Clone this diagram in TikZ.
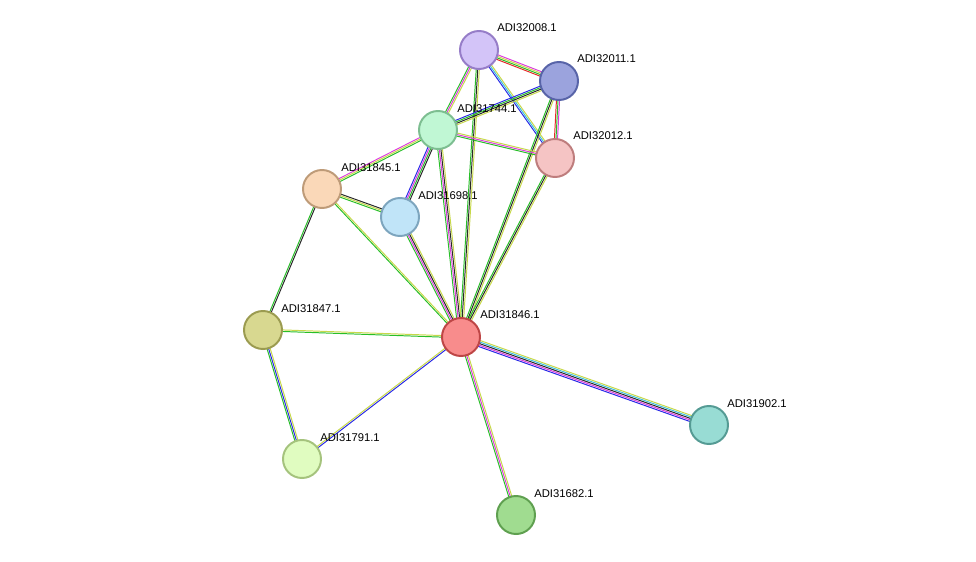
\documentclass[tikz,border=0pt]{standalone}
\usepackage{fontspec}
\setmainfont{Liberation Sans}
\usetikzlibrary{calc}

\definecolor{tmine}{RGB}{199,216,74}
\definecolor{nbh}{RGB}{40,190,40}
\definecolor{cooc}{RGB}{40,40,230}
\definecolor{expt}{RGB}{220,60,220}
\definecolor{dbs}{RGB}{60,190,220}
\definecolor{fus}{RGB}{230,40,40}
\definecolor{coex}{RGB}{40,40,40}

\definecolor{f08}{HTML}{D3C4F8}\definecolor{d08}{HTML}{967DC8}
\definecolor{f11}{HTML}{9BA3DD}\definecolor{d11}{HTML}{5864A8}
\definecolor{f44}{HTML}{C0F7D4}\definecolor{d44}{HTML}{7DBE91}
\definecolor{f12}{HTML}{F5C4C4}\definecolor{d12}{HTML}{BE7D7D}
\definecolor{f45}{HTML}{FAD8B8}\definecolor{d45}{HTML}{BE9B78}
\definecolor{f98}{HTML}{C0E4F8}\definecolor{d98}{HTML}{7DA5BE}
\definecolor{f47}{HTML}{D8D890}\definecolor{d47}{HTML}{9B9B50}
\definecolor{f46}{HTML}{F88C8C}\definecolor{d46}{HTML}{BE4646}
\definecolor{f02}{HTML}{98DCD4}\definecolor{d02}{HTML}{559B94}
\definecolor{f91}{HTML}{E0FCC0}\definecolor{d91}{HTML}{A5C37D}
\definecolor{f82}{HTML}{A0DC90}\definecolor{d82}{HTML}{5FA050}

\tikzset{
  prot/.style={circle, draw=d#1, fill=f#1, line width=1.4pt, minimum size=0.95cm, inner sep=0pt},
  lbl/.style={anchor=west, inner sep=0pt, font=\fontsize{8}{9}\selectfont}
}

% #1,#2 end points, #3 number of lines, #4 colours
\newcommand\stredge[4]{%
  \foreach \c [count=\i] in {#4} {
    \pgfmathsetmacro\o{(\i-1-(#3-1)/2)*1.1}
    \draw[\c, line width=0.7pt] ($(#1)!\o pt!90:(#2)$) -- ($(#2)!\o pt!-90:(#1)$);
  }}

\begin{document}
\begin{tikzpicture}[x=0.025cm, y=-0.025cm]
\useasboundingbox (0,0) rectangle (976,561);

\coordinate (c08) at (479,50);
\coordinate (c11) at (559,81);
\coordinate (c44) at (438,130);
\coordinate (c12) at (555,158);
\coordinate (c45) at (322,189);
\coordinate (c98) at (400,217);
\coordinate (c47) at (263,330);
\coordinate (c46) at (461,337);
\coordinate (c02) at (709,425);
\coordinate (c91) at (302,459);
\coordinate (c82) at (516,515);

\stredge{c08}{c11}{4}{fus,nbh,tmine,expt}
\stredge{c08}{c44}{3}{nbh,expt,tmine}
\stredge{c08}{c12}{3}{cooc,dbs,tmine}
\stredge{c08}{c46}{3}{nbh,coex,tmine}
\stredge{c11}{c44}{4}{cooc,nbh,coex,tmine}
\stredge{c11}{c12}{3}{fus,nbh,expt}
\stredge{c11}{c46}{3}{nbh,coex,tmine}
\stredge{c44}{c12}{3}{nbh,expt,tmine}
\stredge{c44}{c45}{3}{expt,tmine,nbh}
\stredge{c44}{c98}{4}{cooc,expt,nbh,coex}
\stredge{c44}{c46}{4}{nbh,expt,coex,tmine}
\stredge{c12}{c46}{3}{nbh,coex,tmine}
\stredge{c45}{c98}{3}{nbh,tmine,coex}
\stredge{c45}{c46}{2}{nbh,tmine}
\stredge{c45}{c47}{2}{nbh,coex}
\stredge{c98}{c46}{4}{nbh,expt,coex,tmine}
\stredge{c47}{c46}{2}{nbh,tmine}
\stredge{c47}{c91}{3}{nbh,cooc,tmine}
\stredge{c91}{c46}{2}{cooc,tmine}
\stredge{c46}{c02}{5}{cooc,expt,coex,dbs,tmine}
\stredge{c46}{c82}{3}{nbh,expt,tmine}

\node[prot=08] (n08) at (c08) {};
\node[prot=11] (n11) at (c11) {};
\node[prot=44] (n44) at (c44) {};
\node[prot=12] (n12) at (c12) {};
\node[prot=45] (n45) at (c45) {};
\node[prot=98] (n98) at (c98) {};
\node[prot=47] (n47) at (c47) {};
\node[prot=46] (n46) at (c46) {};
\node[prot=02] (n02) at (c02) {};
\node[prot=91] (n91) at (c91) {};
\node[prot=82] (n82) at (c82) {};

\node[lbl] (l08) at ([shift={(18,-22)}]c08) {ADI32008.1};
\node[lbl] (l11) at ([shift={(18,-22)}]c11) {ADI32011.1};
\node[lbl] (l44) at ([shift={(19,-21)}]c44) {ADI31744.1};
\node[lbl] (l12) at ([shift={(18,-22)}]c12) {ADI32012.1};
\node[lbl] (l45) at ([shift={(19,-21)}]c45) {ADI31845.1};
\node[lbl] (l98) at ([shift={(18,-21)}]c98) {ADI31698.1};
\node[lbl] (l47) at ([shift={(18,-21)}]c47) {ADI31847.1};
\node[lbl] (l46) at ([shift={(19,-22)}]c46) {ADI31846.1};
\node[lbl] (l02) at ([shift={(18,-21)}]c02) {ADI31902.1};
\node[lbl] (l91) at ([shift={(18,-21)}]c91) {ADI31791.1};
\node[lbl] (l82) at ([shift={(18,-21)}]c82) {ADI31682.1};
\end{tikzpicture}
\end{document}
